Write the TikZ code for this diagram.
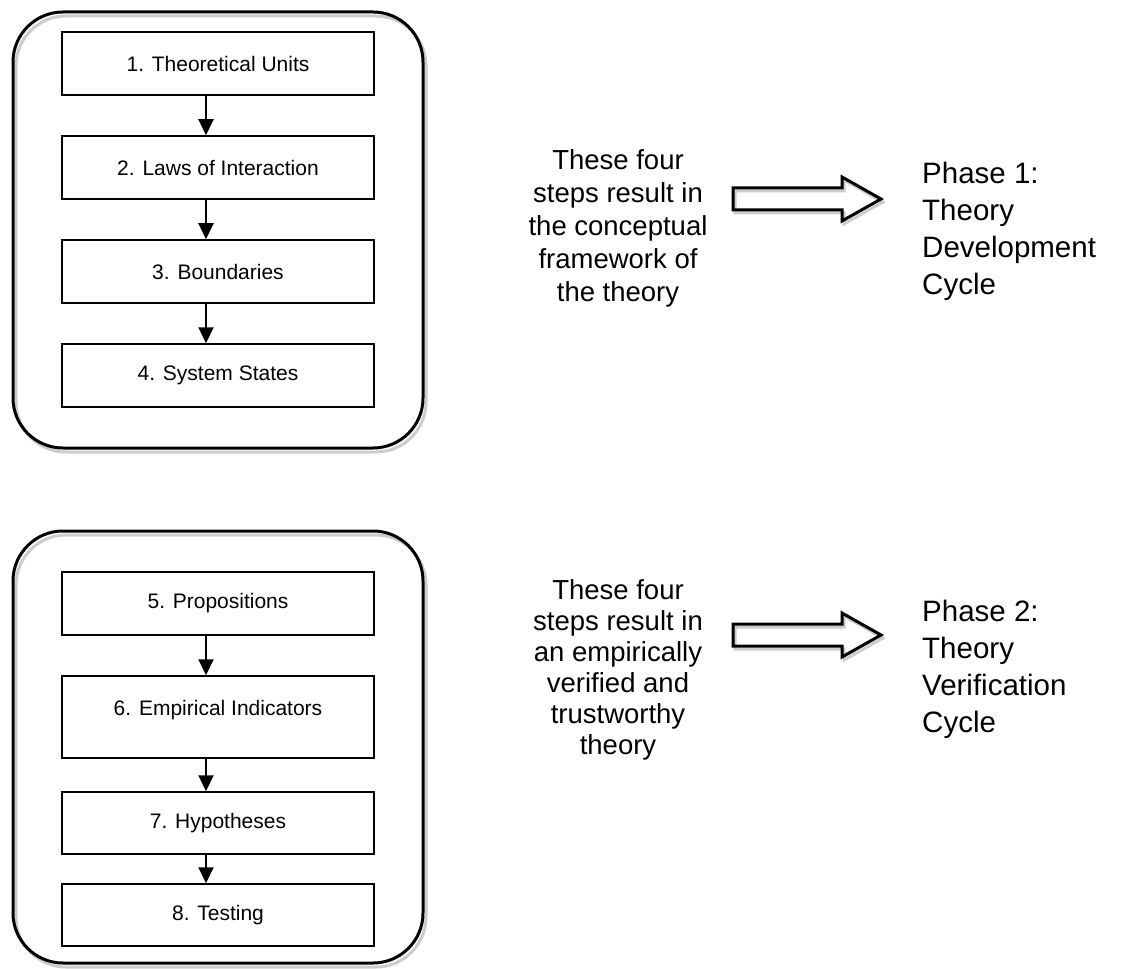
\documentclass[tikz,border=0pt]{standalone}
\usepackage{fontspec}
\setmainfont{Liberation Sans}
\usetikzlibrary{arrows.meta}

\begin{document}
\begin{tikzpicture}[x=1pt, y=-1pt,
    stepbox/.style={draw, line width=1.5pt, minimum width=312pt, minimum height=63pt, inner sep=0pt, font=\fontsize{21}{25}\selectfont},
    flow/.style={-{Triangle[length=16pt, width=15pt]}, line width=2pt},
    panel/.style={line width=3pt, rounded corners=50pt},
    ghost/.style={line width=3pt, draw=black!20},
    fatarrow/.style={line width=3pt, line join=miter},
    note/.style={align=center, anchor=north, inner sep=0pt},
    phase/.style={align=left, anchor=north west, inner sep=0pt, font=\fontsize{29.5}{37}\selectfont}]

    \useasboundingbox (0,0) rectangle (1123,968);

    % the two frames, grey outline a bit lower right
    \draw[ghost, rounded corners=50pt] (16,16) rectangle (426,452);
    \draw[panel] (13,12) rectangle (423,448);
    \draw[ghost, rounded corners=50pt] (16,535) rectangle (426,967);
    \draw[panel] (13,531) rectangle (423,963);

    % phase 1 steps
    \node[stepbox] (s1) at (218,63.5) {1. Theoretical Units};
    \node[stepbox] (s2) at (218,167.5) {2. Laws of Interaction};
    \node[stepbox] (s3) at (218,271.5) {3. Boundaries};
    \node[stepbox] (s4) at (218,375.5) {4. System States};

    % phase 2 steps
    \node[stepbox] (s5) at (218,603.5) {5. Propositions};
    \node[stepbox, minimum height=82pt, text depth=18pt] (s6) at (218,717) {6. Empirical Indicators};
    \node[stepbox, minimum height=62pt] (s7) at (218,823) {7. Hypotheses};
    \node[stepbox, minimum height=62pt] (s8) at (218,915) {8. Testing};

    \path[flow]
        ([xshift=-12pt]s1.south) edge ([xshift=-12pt]s2.north)
        ([xshift=-12pt]s2.south) edge ([xshift=-12pt]s3.north)
        ([xshift=-12pt]s3.south) edge ([xshift=-12pt]s4.north)
        ([xshift=-12pt]s5.south) edge ([xshift=-12pt]s6.north)
        ([xshift=-12pt]s6.south) edge ([xshift=-12pt]s7.north)
        ([xshift=-12pt]s7.south) edge ([xshift=-12pt]s8.north)
        ;

    % middle texts
    \node[note, font=\fontsize{27.5}{33}\selectfont] (res1) at (618,149)
        {These four\\steps result in\\the conceptual\\framework of\\the theory};
    \node[note, font=\fontsize{27.5}{31}\selectfont] (res2) at (618,579)
        {These four\\steps result in\\an empirically\\verified and\\trustworthy\\theory};

    % block arrows
    \draw[ghost, line join=miter, shift={(2,3)}] (733,188) -- (842,188) -- (842,177) -- (881,199) -- (842,221) -- (842,210) -- (733,210) -- cycle;
    \draw[fatarrow] (733,188) -- (842,188) -- (842,177) -- (881,199) -- (842,221) -- (842,210) -- (733,210) -- cycle;
    \draw[ghost, line join=miter, shift={(2,3)}] (733,624) -- (842,624) -- (842,613) -- (881,635) -- (842,657) -- (842,646) -- (733,646) -- cycle;
    \draw[fatarrow] (733,624) -- (842,624) -- (842,613) -- (881,635) -- (842,657) -- (842,646) -- (733,646) -- cycle;

    % phases
    \node[phase] (ph1) at (922,162) {Phase 1:\\Theory\\Development\\Cycle};
    \node[phase] (ph2) at (922,600) {Phase 2:\\Theory\\Verification\\Cycle};
\end{tikzpicture}
\end{document}
